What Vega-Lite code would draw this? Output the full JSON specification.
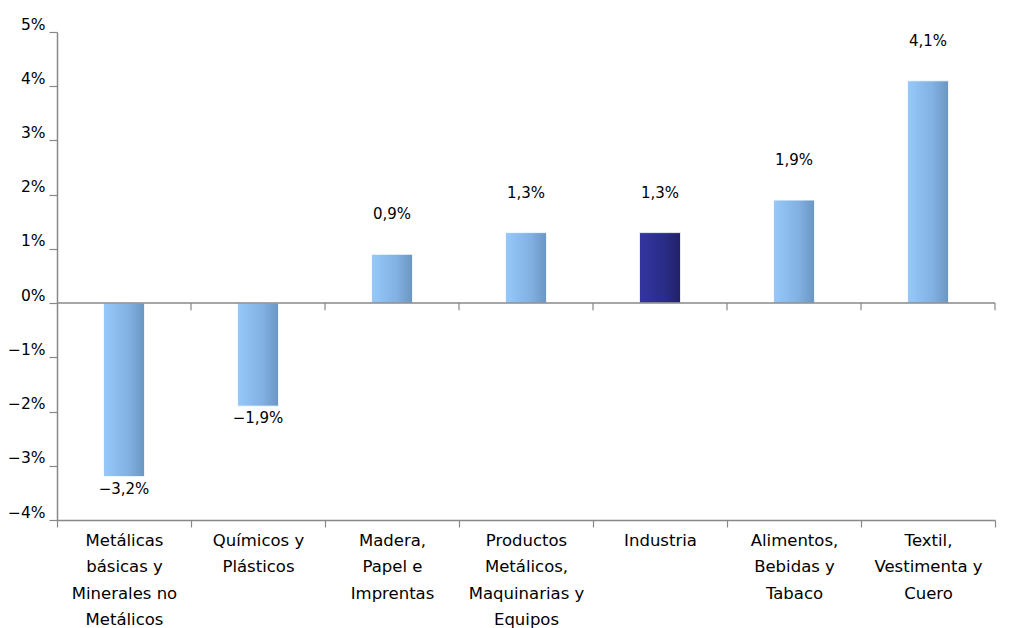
{
  "$schema": "https://vega.github.io/schema/vega-lite/v6.json",
  "width": 938,
  "height": 488,
  "autosize": "none",
  "padding": {"left": 57, "top": 32, "right": 20, "bottom": 108},
  "background": "white",
  "config": {
    "locale": {"number": {"decimal": ",", "thousands": ".", "grouping": [3], "currency": ["$", ""]}},
    "view": {"stroke": null},
    "font": "DejaVu Sans"
  },
  "data": {
    "values": [
      {"cat": "Metálicas|básicas y|Minerales no|Metálicos", "v": -0.032},
      {"cat": "Químicos y|Plásticos", "v": -0.019},
      {"cat": "Madera,|Papel e|Imprentas", "v": 0.009},
      {"cat": "Productos|Metálicos,|Maquinarias y|Equipos", "v": 0.013},
      {"cat": "Industria", "v": 0.013},
      {"cat": "Alimentos,|Bebidas y|Tabaco", "v": 0.019},
      {"cat": "Textil,|Vestimenta y|Cuero", "v": 0.041}
    ]
  },
  "encoding": {
    "x": {"field": "cat", "type": "nominal", "sort": null, "scale": {"paddingInner": 0, "paddingOuter": 0}}
  },
  "layer": [
    {
      "mark": {"type": "bar", "size": 41, "stroke": "white", "strokeWidth": 0.8},
      "encoding": {
        "y": {"field": "v", "type": "quantitative",
          "scale": {"domain": [-0.04, 0.05], "nice": false, "zero": false},
          "axis": {"title": null, "format": ".0%", "values": [-0.04, -0.03, -0.02, -0.01, 0, 0.01, 0.02, 0.03, 0.04, 0.05],
            "grid": false, "domainColor": "#888888", "domainWidth": 1.5, "tickColor": "#888888", "tickSize": 8, "tickWidth": 1.2,
            "labelFontSize": 15.5, "labelColor": "#000000", "labelPadding": 4, "labelBaseline": "alphabetic", "labelOffset": -3}},
        "fill": {"condition": {"test": "datum.cat == 'Industria'",
          "value": {"gradient": "linear", "x1": 0, "y1": 0, "x2": 1, "y2": 0,
            "stops": [{"offset": 0, "color": "#3436a0"}, {"offset": 0.6, "color": "#2a2c88"}, {"offset": 1, "color": "#202266"}]}},
          "value": {"gradient": "linear", "x1": 0, "y1": 0, "x2": 1, "y2": 0,
            "stops": [{"offset": 0, "color": "#96c9fa"}, {"offset": 0.6, "color": "#82b1e3"}, {"offset": 1, "color": "#6b96c2"}]}},
        "x": {"field": "cat", "type": "nominal", "sort": null,
          "axis": {"title": null, "labelAngle": 0, "labelExpr": "split(datum.label, '|')", "labelFontSize": 16.5, "labelColor": "#000000",
            "labelLineHeight": 26.5, "labelPadding": 5, "labelBaseline": "top", "labelLimit": 200,
            "tickBand": "extent", "domainColor": "#888888", "domainWidth": 1.5, "tickColor": "#888888", "tickSize": 7, "tickWidth": 1.2}}
      }
    },
    {
      "mark": {"type": "rule", "color": "#888888", "strokeWidth": 1.5},
      "data": {"values": [{"z": 0}]},
      "encoding": {"y": {"field": "z", "type": "quantitative"}, "x": null}
    },
    {
      "mark": {"type": "rule", "color": "#888888", "strokeWidth": 1.2},
      "encoding": {
        "x": {"field": "cat", "type": "nominal", "sort": null, "bandPosition": 1},
        "y": {"datum": 0, "type": "quantitative"},
        "y2": {"datum": -0.0013}
      }
    },
    {
      "transform": [{"filter": "datum.v >= 0"}],
      "mark": {"type": "text", "fontSize": 15, "color": "#000000", "baseline": "middle", "dy": -40},
      "encoding": {
        "y": {"field": "v", "type": "quantitative"},
        "text": {"field": "v", "type": "quantitative", "format": ".1%"}
      }
    },
    {
      "transform": [{"filter": "datum.v < 0"}],
      "mark": {"type": "text", "fontSize": 15, "color": "#000000", "baseline": "middle", "dy": 12},
      "encoding": {
        "y": {"field": "v", "type": "quantitative"},
        "text": {"field": "v", "type": "quantitative", "format": ".1%"}
      }
    }
  ]
}
